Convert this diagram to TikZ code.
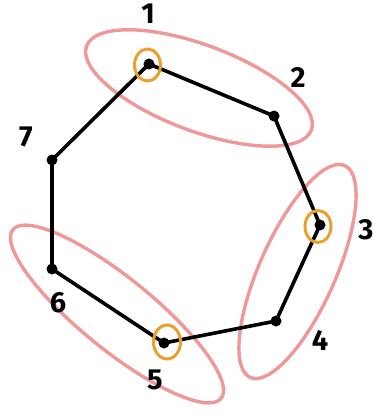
\documentclass[tikz,border=0pt]{standalone}
\usepackage{fontspec}
\setmainfont{Fira Sans}
\begin{document}
\begin{tikzpicture}[x=1pt,y=-1pt,
  edge/.style={line width=3.6pt,black,line cap=round},
  vdot/.style={circle,fill=black,inner sep=0pt,minimum size=11pt},
  grp/.style={line width=3.4pt,draw=pinkc},
  hilite/.style={line width=3pt,draw=orangec},
  lab/.style={font=\fontsize{29}{29}\selectfont\bfseries,inner sep=0pt}]
\definecolor{pinkc}{RGB}{238,152,152}
\definecolor{orangec}{RGB}{233,160,45}
\useasboundingbox (0,0) rectangle (372,414);
% groups
\draw[grp,rotate around={-20.5:(199,88)}] (199,88) ellipse [x radius=120, y radius=43];
\draw[grp,rotate around={66:(297.5,271.5)}] (297.5,271.5) ellipse [x radius=116, y radius=38];
\draw[grp,rotate around={-39:(117,314)}] (117,314) ellipse [x radius=134, y radius=36];
% vertices
\node[vdot] (v1) at (149,64) {};
\node[vdot] (v2) at (274,116) {};
\node[vdot] (v3) at (320,225) {};
\node[vdot] (v4) at (276,321) {};
\node[vdot] (v5) at (164,343) {};
\node[vdot] (v6) at (52,269) {};
\node[vdot] (v7) at (52,160) {};
\draw[edge] (v1.center) -- (v2.center) -- (v3.center) -- (v4.center) -- (v5.center) -- (v6.center) -- (v7.center) -- (v1.center);
% highlighted
\draw[hilite] (147.5,65) ellipse [x radius=13, y radius=16];
\draw[hilite] (318,226.5) ellipse [x radius=13, y radius=16];
\draw[hilite] (167,342) ellipse [x radius=13.5, y radius=17];
% labels
\node[lab] (l1) at (148,14) {1};
\node[lab] (l2) at (298,77) {2};
\node[lab] (l3) at (366,230) {3};
\node[lab] (l4) at (320,340) {4};
\node[lab] (l5) at (155,380) {5};
\node[lab] (l6) at (58,303) {6};
\node[lab] (l7) at (26,137) {7};
\end{tikzpicture}
\end{document}
